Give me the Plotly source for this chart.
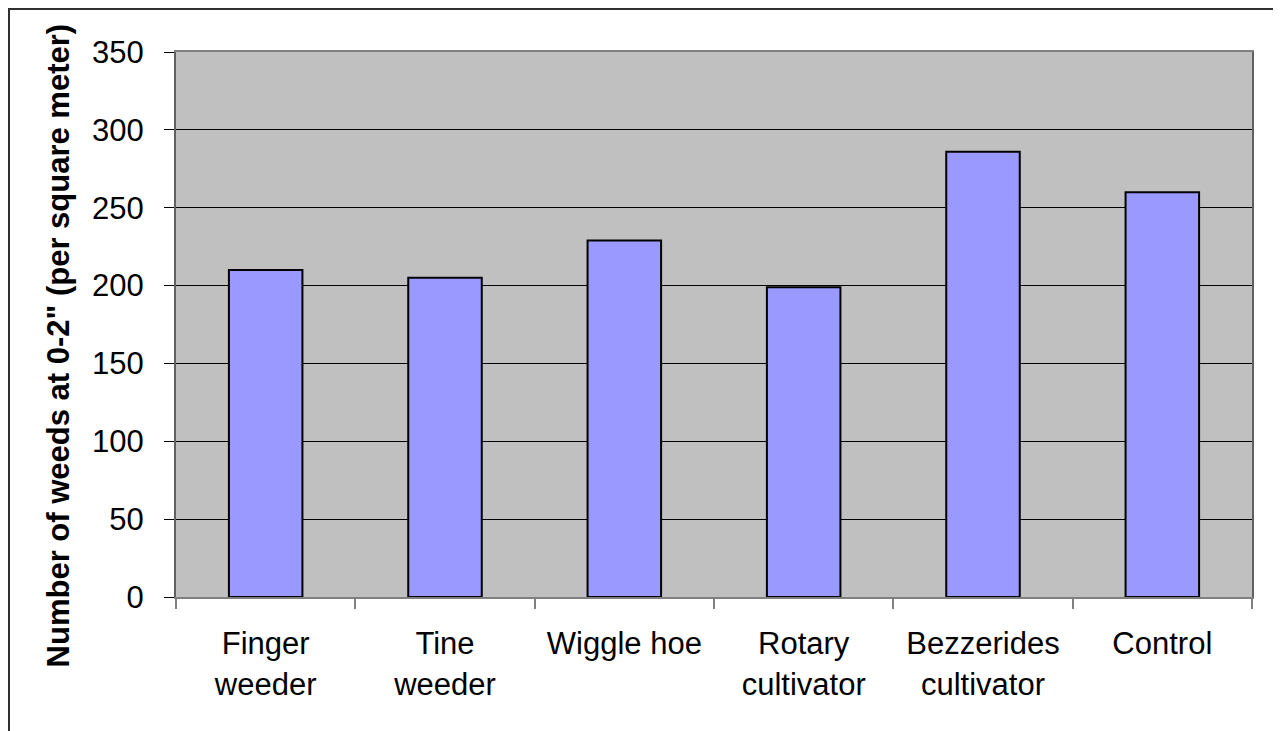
import plotly.graph_objects as go

categories = [
    "Finger<br>weeder",
    "Tine<br>weeder",
    "Wiggle hoe",
    "Rotary<br>cultivator",
    "Bezzerides<br>cultivator",
    "Control",
]
weeds = [210, 205, 229, 199, 286, 260]
y_ticks = [0, 50, 100, 150, 200, 250, 300, 350]
y_title = "Number of weeds at 0-2\" (per square meter)"

font_family = "Liberation Sans, Arial, sans-serif"

# page body has an 8px margin, so the figure is sized a bit smaller
W, H = 1273, 723
plot_l, plot_r, plot_t, plot_b = 168, 1244, 44, 589

fig = go.Figure(
    go.Bar(
        x=categories,
        y=weeds,
        marker=dict(color="#9999FF", line=dict(color="black", width=2)),
        width=0.41,
    )
)

fig.update_layout(
    width=W,
    height=H,
    margin=dict(l=plot_l, r=W - plot_r, t=plot_t, b=H - plot_b),
    paper_bgcolor="white",
    plot_bgcolor="#C0C0C0",
    font=dict(family=font_family, size=31, color="black"),
    showlegend=False,
)

fig.update_xaxes(
    type="category",
    showline=True,
    linecolor="#808080",
    linewidth=2,
    mirror=True,
    ticks="outside",
    tickson="boundaries",
    ticklen=10,
    tickcolor="#808080",
    tickwidth=2,
    ticklabelstandoff=18,
    showgrid=False,
)

fig.update_yaxes(
    range=[0, 350],
    tickvals=y_ticks,
    showline=True,
    linecolor="#606060",
    linewidth=2,
    mirror=True,
    ticks="outside",
    ticklen=10,
    tickcolor="black",
    tickwidth=1,
    ticklabelstandoff=14,
    showgrid=True,
    gridcolor="black",
    gridwidth=1,
    zeroline=False,
)

# y-axis title placed like the Excel original (centred on the chart area)
fig.add_annotation(
    text="<b>" + y_title + "</b>",
    textangle=-90,
    xref="paper",
    yref="paper",
    x=-0.1095,
    y=0.462,
    xanchor="center",
    yanchor="middle",
    showarrow=False,
    font=dict(size=31),
)

# outer chart border (Excel-style frame)
fig.add_shape(
    type="rect",
    xref="paper",
    yref="paper",
    x0=(1 - plot_l) / (plot_r - plot_l),
    x1=(1266 - plot_l) / (plot_r - plot_l),
    y0=-0.3,
    y1=(plot_b - 1) / (plot_b - plot_t),
    line=dict(color="#303030", width=2),
    fillcolor="rgba(0,0,0,0)",
    layer="below",
)

fig.write_html("out.html")
